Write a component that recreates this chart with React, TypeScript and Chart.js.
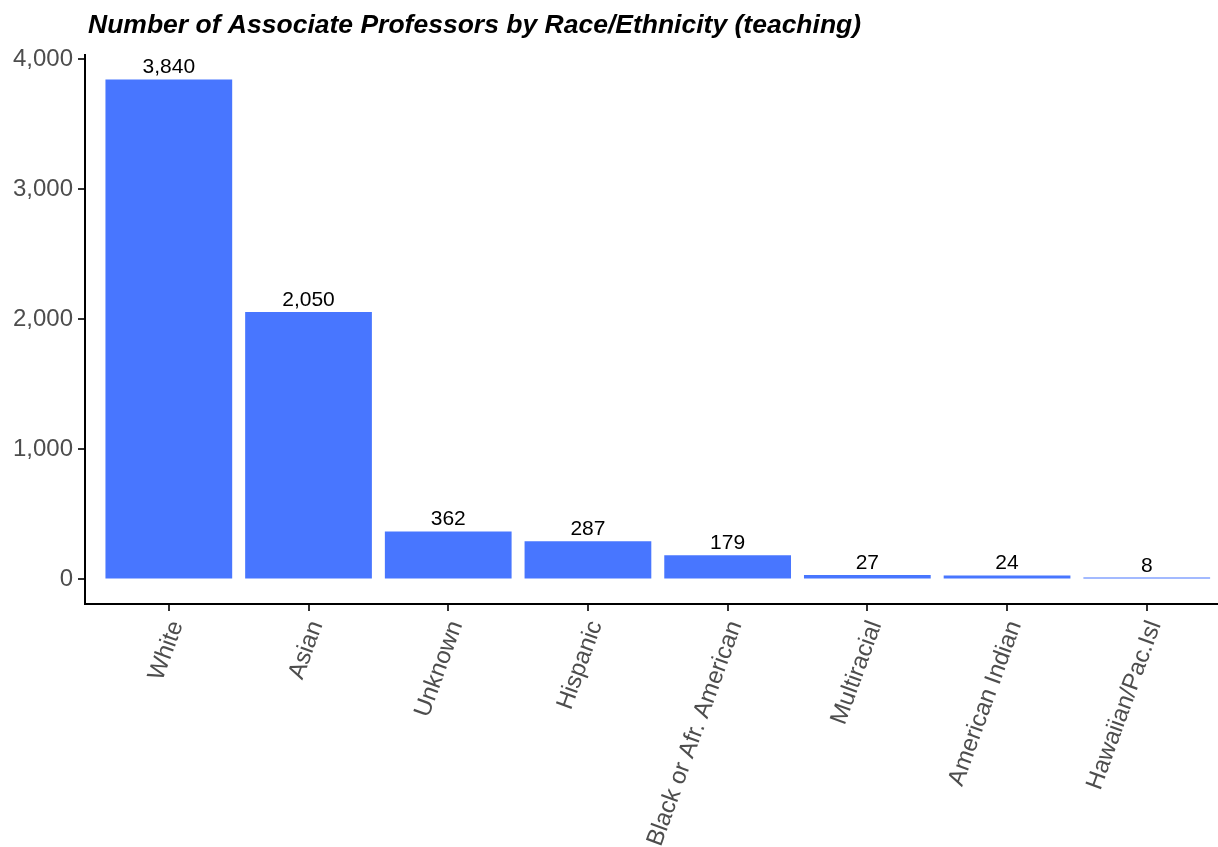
import React, { useEffect, useRef } from "react";
import { Chart, registerables } from "chart.js";

Chart.register(...registerables);

const categories = [
  "White",
  "Asian",
  "Unknown",
  "Hispanic",
  "Black or Afr. American",
  "Multiracial",
  "American Indian",
  "Hawaiian/Pac.Isl",
];
const counts = [3840, 2050, 362, 287, 179, 27, 24, 8];
const yTickValues = [0, 1000, 2000, 3000, 4000];
const titleText = "Number of Associate Professors by Race/Ethnicity (teaching)";

const FONT = '"Liberation Sans", Arial, Helvetica, sans-serif';
const BAR_COLOR = "#4876FF";
const TICK_TEXT = "#4D4D4D";

const titlePlugin = {
  id: "ggTitle",
  afterDraw(chart: any) {
    const ctx = chart.ctx;
    ctx.save();
    ctx.font = `italic bold 26.5px ${FONT}`;
    ctx.fillStyle = "#000";
    ctx.textAlign = "left";
    ctx.textBaseline = "alphabetic";
    ctx.fillText(titleText, 88, 33);
    ctx.restore();
  },
};

const valueLabelPlugin = {
  id: "valueLabels",
  afterDatasetsDraw(chart: any) {
    const ctx = chart.ctx;
    const meta = chart.getDatasetMeta(0);
    ctx.save();
    ctx.font = `21px ${FONT}`;
    ctx.fillStyle = "#000";
    ctx.textAlign = "center";
    ctx.textBaseline = "alphabetic";
    meta.data.forEach((bar: any, i: number) => {
      ctx.fillText(counts[i].toLocaleString("en-US"), bar.x, bar.y - 6.5);
    });
    ctx.restore();
  },
};

export default function App() {
  const canvasRef = useRef<HTMLCanvasElement | null>(null);

  useEffect(() => {
    if (!canvasRef.current) return;
    const yMax = Math.max(...counts);
    const pad = yMax * 0.05;
    const chart = new Chart(canvasRef.current, {
      type: "bar",
      data: {
        datasets: [
          {
            data: counts.map((v, i) => ({ x: i, y: v })),
            backgroundColor: BAR_COLOR,
            borderWidth: 0,
            barPercentage: 0.9,
            categoryPercentage: 1.0,
            inflateAmount: 0.5,
          },
        ],
      },
      options: {
        responsive: false,
        animation: false,
        devicePixelRatio: 1,
        layout: { padding: { top: 55, left: 0, right: 0, bottom: 0 } },
        plugins: {
          legend: { display: false },
          tooltip: { enabled: false },
          title: { display: false },
        },
        scales: {
          x: {
            type: "linear",
            offset: false,
            min: -0.6,
            max: 7.51,
            afterBuildTicks: (scale: any) => {
              scale.ticks = categories.map((_, i) => ({ value: i }));
            },
            afterFit: (scale: any) => {
              scale.height = 243;
            },
            border: { display: true, color: "#000", width: 2 },
            grid: {
              display: true,
              offset: false,
              drawOnChartArea: false,
              drawTicks: true,
              tickLength: 7,
              color: "#333333",
              lineWidth: 2,
            },
            ticks: {
              autoSkip: false,
              minRotation: 70,
              maxRotation: 70,
              padding: 6,
              labelOffset: 8,
              color: TICK_TEXT,
              font: { family: FONT, size: 24 },
              callback: (v: any) => categories[Math.round(Number(v))] ?? "",
            },
          },
          y: {
            type: "linear",
            min: -pad,
            max: yMax + pad,
            afterBuildTicks: (scale: any) => {
              scale.ticks = yTickValues.map((v) => ({ value: v }));
            },
            afterFit: (scale: any) => {
              scale.width = 85;
            },
            border: { display: true, color: "#000", width: 2 },
            grid: {
              display: true,
              drawOnChartArea: false,
              drawTicks: true,
              tickLength: 7,
              color: "#333333",
              lineWidth: 2,
            },
            ticks: {
              padding: 5,
              color: TICK_TEXT,
              font: { family: FONT, size: 24 },
              callback: (v: any) => Number(v).toLocaleString("en-US"),
            },
          },
        },
      },
      plugins: [titlePlugin, valueLabelPlugin],
    });
    return () => chart.destroy();
  }, []);

  return (
    <div style={{ position: "fixed", left: 0, top: 0, width: 1218, height: 847, background: "#fff" }}>
      <canvas ref={canvasRef} width={1218} height={847} />
    </div>
  );
}
